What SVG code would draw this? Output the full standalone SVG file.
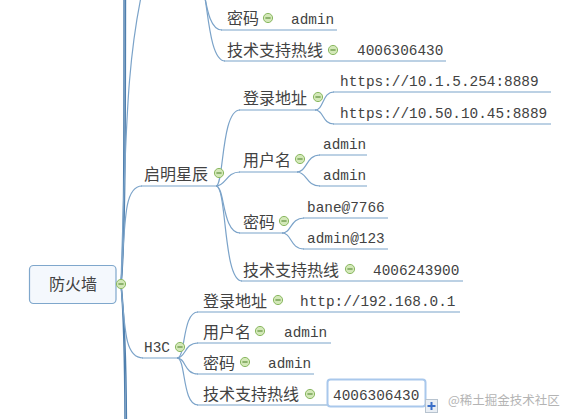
<svg xmlns="http://www.w3.org/2000/svg" xmlns:xlink="http://www.w3.org/1999/xlink" width="568" height="419" viewBox="0 0 568 419">
<style>
.c{fill:none;stroke:#7ba3c9;stroke-width:1.2}
.t{stroke:#4f7fae;stroke-width:1.4;fill:none}
.zh{font-family:"Noto Sans CJK SC","Noto Sans",sans-serif;font-size:16px;fill:#424242}
.mo{font-family:"Liberation Mono",monospace;font-size:14.4px;fill:#424242}
.wm{font-family:"Noto Sans CJK SC",sans-serif;font-size:12.5px;fill:#b4b4b4}
</style>
<defs>
<g id="m"><circle r="4.6" fill="#d3e8b8" stroke="#8ab861" stroke-width="1"/><line x1="-2.6" y1="0" x2="2.6" y2="0" stroke="#5f8f3c" stroke-width="1.2"/></g>
</defs>
<rect width="568" height="419" fill="#ffffff"/>

<g id="connectors">
  <path class="t" d="M121 284 C124 250 124 150 124 -20"/>
  <path class="t" d="M121 284 C125 250 125.5 150 125.5 -20"/>
  <path class="t" d="M121 284 C124 320 125 380 125 440"/>
  <path class="t" d="M121 284 C125 320 126.5 380 126.5 440"/>
  <path class="c" d="M121 284 C126 120 127 40 150 -40"/>
  <path class="c" d="M199 -20 C206 -20 204 30 222 30"/>
  <path class="c" d="M199 -20 C208 -20 206 61 225 61"/>
  <line class="c" x1="221" y1="30" x2="337" y2="30"/>
  <line class="c" x1="224" y1="61" x2="446" y2="61"/>
  <path class="c" d="M121 284 C125 215 125 186 142 186"/>
  <line class="c" x1="141" y1="186" x2="217" y2="186"/>
  <path class="c" d="M216 186 C224 186 221 110 240 110"/>
  <path class="c" d="M216 186 C226 186 226 172 240 172"/>
  <path class="c" d="M216 186 C225 186 222 233 240 233"/>
  <path class="c" d="M216 186 C227 186 223 281 242 281"/>
  <line class="c" x1="239" y1="110" x2="316" y2="110"/>
  <line class="c" x1="239" y1="172" x2="298" y2="172"/>
  <line class="c" x1="239" y1="233" x2="283" y2="233"/>
  <line class="c" x1="241" y1="281" x2="463" y2="281"/>
  <path class="c" d="M315 110 C324 110 322 92 334 92"/>
  <path class="c" d="M315 110 C324 110 322 124 334 124"/>
  <line class="c" x1="333" y1="92" x2="551" y2="92"/>
  <line class="c" x1="333" y1="124" x2="551" y2="124"/>
  <path class="c" d="M297 172 C307 172 306 155 320 155"/>
  <path class="c" d="M297 172 C307 172 306 186 320 186"/>
  <line class="c" x1="319" y1="155" x2="367" y2="155"/>
  <line class="c" x1="319" y1="186" x2="367" y2="186"/>
  <path class="c" d="M282 233 C292 233 290 218 304 218"/>
  <path class="c" d="M282 233 C292 233 290 249 304 249"/>
  <line class="c" x1="303" y1="218" x2="388" y2="218"/>
  <line class="c" x1="303" y1="249" x2="388" y2="249"/>
  <path class="c" d="M121 284 C125 335 126 358 143 358"/>
  <line class="c" x1="142" y1="358" x2="178" y2="358"/>
  <path class="c" d="M177 358 C186 358 182 312 198 312"/>
  <path class="c" d="M177 358 C186 358 184 343 198 343"/>
  <path class="c" d="M177 358 C186 358 184 374 198 374"/>
  <path class="c" d="M177 358 C186 358 182 405 198 405"/>
  <line class="c" x1="197" y1="312" x2="460" y2="312"/>
  <line class="c" x1="197" y1="343" x2="331" y2="343"/>
  <line class="c" x1="197" y1="374" x2="314" y2="374"/>
  <line class="c" x1="197" y1="405" x2="328" y2="405"/>
</g>

<g id="root">
  <rect x="29.5" y="265.5" width="86.5" height="38" rx="4" fill="#f4f8fd" stroke="#7fa7cc" stroke-width="1.2"/>
  <text class="zh" x="73" y="290" text-anchor="middle">防火墙</text>
  <use xlink:href="#m" x="121" y="284"/>
</g>

<g id="top-password">
  <text class="zh" x="227" y="24">密码</text>
  <use xlink:href="#m" x="268" y="18"/>
  <text class="mo" x="291" y="24">admin</text>
</g>
<g id="top-hotline">
  <text class="zh" x="227" y="56">技术支持热线</text>
  <use xlink:href="#m" x="333" y="50"/>
  <text class="mo" x="357" y="55">4006306430</text>
</g>

<g id="qmxc">
  <text class="zh" x="144" y="180">启明星辰</text>
  <use xlink:href="#m" x="219" y="173"/>
</g>
<g id="qmxc-login">
  <text class="zh" x="243" y="103.5">登录地址</text>
  <use xlink:href="#m" x="318" y="97"/>
  <text class="mo" x="340" y="86">https://10.1.5.254:8889</text>
  <text class="mo" x="340" y="118">https://10.50.10.45:8889</text>
</g>
<g id="qmxc-user">
  <text class="zh" x="243" y="165.5">用户名</text>
  <use xlink:href="#m" x="300" y="159"/>
  <text class="mo" x="323" y="149">admin</text>
  <text class="mo" x="323" y="180">admin</text>
</g>
<g id="qmxc-password">
  <text class="zh" x="243" y="227.5">密码</text>
  <use xlink:href="#m" x="284" y="221"/>
  <text class="mo" x="307" y="212">bane@7766</text>
  <text class="mo" x="307" y="243">admin@123</text>
</g>
<g id="qmxc-hotline">
  <text class="zh" x="243" y="275.5">技术支持热线</text>
  <use xlink:href="#m" x="350" y="269"/>
  <text class="mo" x="373" y="275">4006243900</text>
</g>

<g id="h3c">
  <text class="mo" x="144" y="352">H3C</text>
  <use xlink:href="#m" x="180" y="347"/>
</g>
<g id="h3c-login">
  <text class="zh" x="203" y="306.5">登录地址</text>
  <use xlink:href="#m" x="278" y="300"/>
  <text class="mo" x="300" y="306">http://192.168.0.1</text>
</g>
<g id="h3c-user">
  <text class="zh" x="203" y="337.5">用户名</text>
  <use xlink:href="#m" x="260" y="331"/>
  <text class="mo" x="284" y="337">admin</text>
</g>
<g id="h3c-password">
  <text class="zh" x="203" y="368.5">密码</text>
  <use xlink:href="#m" x="245" y="362"/>
  <text class="mo" x="268" y="368">admin</text>
</g>
<g id="h3c-hotline">
  <text class="zh" x="203" y="399.5">技术支持热线</text>
  <use xlink:href="#m" x="310" y="394"/>
  <rect x="327.5" y="379.5" width="98" height="27" rx="3" fill="#ffffff" stroke="#a9c8ec" stroke-width="2"/>
  <text class="mo" x="333" y="400">4006306430</text>
  <rect x="425.5" y="399.5" width="12" height="13" fill="#e9eef4" stroke="#b7c3cf" stroke-width="1"/>
  <line x1="427.5" y1="406" x2="435.5" y2="406" stroke="#3a6fc8" stroke-width="2"/>
  <line x1="431.5" y1="402" x2="431.5" y2="410" stroke="#3a6fc8" stroke-width="2"/>
</g>

<text class="wm" x="448" y="405">@稀土掘金技术社区</text>
</svg>
